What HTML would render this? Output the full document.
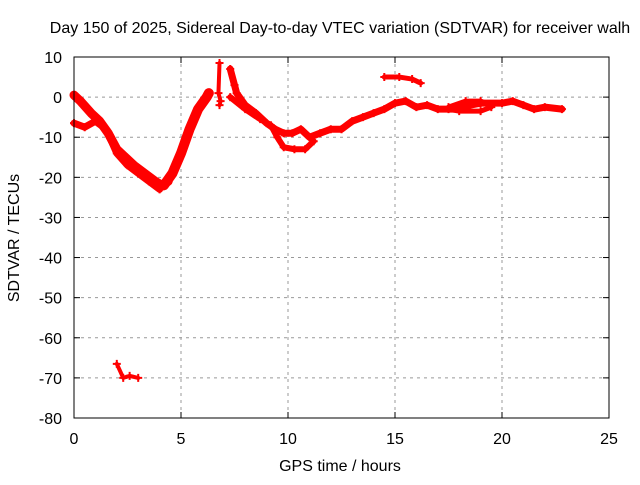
<!DOCTYPE html>
<html><head><meta charset="utf-8"><style>
body{margin:0;background:#fff}
svg text{font-family:"Liberation Sans",sans-serif;font-size:16px;fill:#000}
</style></head><body>
<svg width="640" height="480" id="c">
<text x="340" y="33" text-anchor="middle">Day 150 of 2025, Sidereal Day-to-day VTEC variation (SDTVAR) for receiver walh</text>
<text x="340" y="471" text-anchor="middle">GPS time / hours</text>
<text transform="translate(19,238) rotate(-90)" text-anchor="middle">SDTVAR / TECUs</text>
<g id="grid"></g><g id="data"></g>
<rect x="74" y="57" width="535" height="361" fill="none" stroke="#000" stroke-width="1"/>
</svg>
<script>
const xTicks=[0,5,10,15,20,25];
const yTicks=[10,0,-10,-20,-30,-40,-50,-60,-70,-80];
const trackUpper=[[0,0.5],[0.3,-1],[0.8,-4],[1.2,-6],[1.6,-9],[2,-13],[2.4,-15],[2.8,-17],[3.3,-19],[3.8,-21],[4.1,-22],[4.4,-21]];
const trackLower=[[0,-6.5],[0.5,-7.5],[1,-6],[1.5,-8],[2,-14],[2.5,-17],[3,-19],[3.5,-21],[4,-23]];
const trackRise=[[4.2,-22],[4.6,-19],[5,-14],[5.4,-8],[5.8,-3],[6.2,0],[6.3,1]];
const trackMain=[[7.3,7],[7.5,3],[7.6,1],[8,-2],[8.5,-4],[9,-6.5],[9.4,-8],[9.8,-9],[10.2,-9],[10.6,-8],[11,-10],[11.5,-9],[12,-8],[12.5,-8],[13,-6],[13.5,-5],[14,-4],[14.5,-3],[15,-1.5],[15.5,-1],[16,-2.5],[16.5,-2],[17,-3],[18,-3],[18.5,-2],[19,-1.5],[20,-1.5],[20.5,-1],[21,-2],[21.5,-3],[22,-2.5],[22.8,-3]];
const trackBranch=[[7.3,0],[8,-3],[8.7,-5.5],[9.2,-7],[9.5,-10],[9.8,-12.5],[10.3,-13],[10.8,-13],[11.2,-11]];
const trackLoop=[[17.5,-2.5],[18.3,-1],[19,-1],[19.5,-2]];
const trackLoopLow=[[17.5,-3],[18,-3.5],[19,-3.5],[19.5,-2.5]];
const trackHigh=[[14.5,5],[15.2,5],[15.8,4.5],[16.2,3.5]];
const trackPeak=[[6.8,8.5],[6.75,1],[6.85,-1],[6.8,-2]];
const trackOutlier=[[2,-66.5],[2.3,-70],[2.6,-69.5],[3,-70]];
const X=t=>74+t*535/25, Y=v=>57+(10-v)*361/90;
const NS='http://www.w3.org/2000/svg';
const g=document.getElementById('grid'), d=document.getElementById('data');
function mk(tag,at,p){const e=document.createElementNS(NS,tag);for(const k in at)e.setAttribute(k,at[k]);p.appendChild(e);return e;}
xTicks.forEach(t=>{
 if(t>0&&t<25){const l=mk('line',{x1:X(t),x2:X(t),y1:57,y2:418,stroke:'#999','stroke-dasharray':'3,4'},g);
 
 }
 mk('line',{x1:X(t),x2:X(t),y1:418,y2:412,stroke:'#000'},g);
 mk('line',{x1:X(t),x2:X(t),y1:57,y2:63,stroke:'#000'},g);
 const tx=mk('text',{x:X(t),y:444,'text-anchor':'middle'},g);tx.textContent=t;
 
 
});
yTicks.forEach(v=>{
 if(v<10&&v>-80){const l=mk('line',{x1:74,x2:609,y1:Y(v),y2:Y(v),stroke:'#999','stroke-dasharray':'3,4'},g);
 
 }
 mk('line',{x1:74,x2:80,y1:Y(v),y2:Y(v),stroke:'#000'},g);
 mk('line',{x1:603,x2:609,y1:Y(v),y2:Y(v),stroke:'#000'},g);
 const tx=mk('text',{x:62,y:Y(v)+6,'text-anchor':'end'},g);tx.textContent=v;
 
 
});
function track(pts,w,name){
 const p=mk('polyline',{points:pts.map(q=>X(q[0])+','+Y(q[1])).join(' '),fill:'none',stroke:'#f00','stroke-width':w,'stroke-linejoin':'round','stroke-linecap':'round'},d);
 
 
 pts.forEach(q=>{const m=mk('path',{d:`M${X(q[0])-4},${Y(q[1])}h8M${X(q[0])},${Y(q[1])-4}v8`,stroke:'#f00','stroke-width':2},d);
 
 });
}
track(trackUpper,9,'series-upper');
track(trackLower,7,'series-lower');
track(trackRise,10,'series-rise');
track(trackMain,7,'series-main');
track(trackBranch,6,'series-branch');
track(trackLoop,5,'series-loop-upper');
track(trackLoopLow,5,'series-loop-lower');
track(trackHigh,5,'series-high');
track(trackPeak,4,'series-peak');
track(trackOutlier,4,'series-outlier');
</script>
</body></html>
